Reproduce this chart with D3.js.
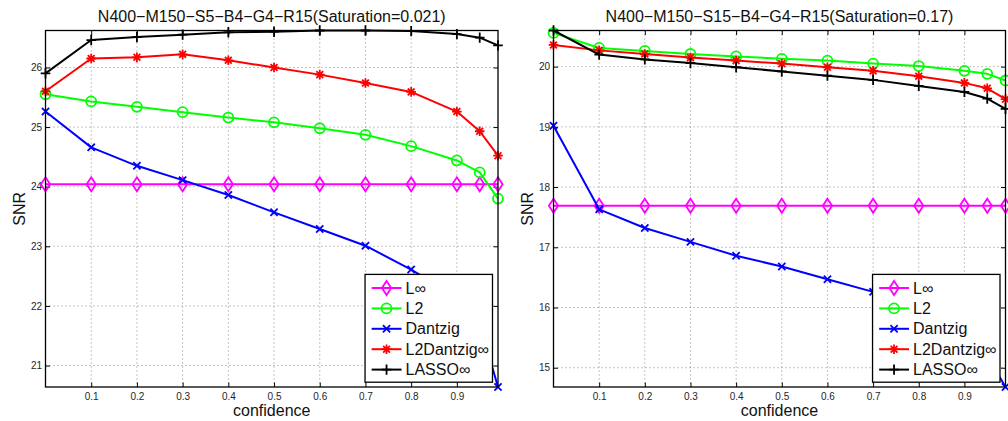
<!DOCTYPE html>
<html>
<head>
<meta charset="utf-8">
<script src="https://cdn.jsdelivr.net/npm/d3@7"></script>
<style>
  html, body { margin: 0; padding: 0; background: #fff; }
  svg { display: block; font-family: "Liberation Sans", Arial, Helvetica, sans-serif; }
</style>
</head>
<body>
<svg id="chart" width="1008" height="421"></svg>
<script>
// Shared x values (confidence level)
const confidence = [0, 0.1, 0.2, 0.3, 0.4, 0.5, 0.6, 0.7, 0.8, 0.9, 0.95, 0.99];
const xTickValues = [0.1, 0.2, 0.3, 0.4, 0.5, 0.6, 0.7, 0.8, 0.9];
const seriesNames = ["L\u221E", "L2", "Dantzig", "L2Dantzig\u221E", "LASSO\u221E"];

// Left panel: S5 (Saturation = 0.021)
const leftTitle = "N400\u2212M150\u2212S5\u2212B4\u2212G4\u2212R15(Saturation=0.021)";
const leftYTicks = [21, 22, 23, 24, 25, 26];
const leftLinf = [24.04, 24.04, 24.04, 24.04, 24.04, 24.04, 24.04, 24.04, 24.04, 24.04, 24.04, 24.04];
const leftL2 = [25.55, 25.43, 25.34, 25.25, 25.16, 25.08, 24.98, 24.87, 24.68, 24.44, 24.24, 23.80];
const leftDantzig = [25.26, 24.66, 24.35, 24.11, 23.86, 23.57, 23.29, 23.01, 22.61, 22.15, 21.70, 20.64];
const leftL2Dantzig = [25.60, 26.15, 26.17, 26.22, 26.12, 26.00, 25.88, 25.74, 25.59, 25.26, 24.93, 24.52];
const leftLasso = [25.90, 26.46, 26.51, 26.55, 26.59, 26.60, 26.62, 26.62, 26.61, 26.56, 26.50, 26.37];

// Right panel: S15 (Saturation = 0.17)
const rightTitle = "N400\u2212M150\u2212S15\u2212B4\u2212G4\u2212R15(Saturation=0.17)";
const rightYTicks = [15, 16, 17, 18, 19, 20];
const rightLinf = [17.69, 17.69, 17.69, 17.69, 17.69, 17.69, 17.69, 17.69, 17.69, 17.69, 17.69, 17.69];
const rightL2 = [20.56, 20.31, 20.26, 20.21, 20.17, 20.13, 20.10, 20.05, 20.01, 19.93, 19.88, 19.77];
const rightDantzig = [19.02, 17.63, 17.32, 17.09, 16.86, 16.68, 16.47, 16.26, 16.05, 15.80, 15.20, 14.68];
const rightL2Dantzig = [20.36, 20.27, 20.21, 20.15, 20.10, 20.05, 19.99, 19.93, 19.84, 19.73, 19.64, 19.46];
const rightLasso = [20.60, 20.20, 20.12, 20.06, 19.99, 19.92, 19.85, 19.78, 19.68, 19.58, 19.47, 19.30];

// Line colours and marker shapes per series (same order as seriesNames)
const seriesColors = ["#ff00ff", "#00ff00", "#0000ff", "#ff0000", "#000000"];
const seriesMarkers = ["diamond", "circle", "cross", "asterisk", "plus"];

const panels = [
  { title: leftTitle, yTicks: leftYTicks, values: [leftLinf, leftL2, leftDantzig, leftL2Dantzig, leftLasso],
    box: { left: 45.5, right: 498, top: 30.5, bottom: 387 } },
  { title: rightTitle, yTicks: rightYTicks, values: [rightLinf, rightL2, rightDantzig, rightL2Dantzig, rightLasso],
    box: { left: 553.5, right: 1005.5, top: 30.5, bottom: 387 } }
];

function markerPath(type) {
  switch (type) {
    case "diamond": return "M0,-7L4.6,0L0,7L-4.6,0Z";
    case "circle": return d3.arc()({ innerRadius: 0, outerRadius: 5, startAngle: 0, endAngle: 2 * Math.PI });
    case "cross": return "M-3.6,-3.6L3.6,3.6M-3.6,3.6L3.6,-3.6";
    case "asterisk": return "M-4.8,0L4.8,0M0,-4.8L0,4.8M-3.4,-3.4L3.4,3.4M-3.4,3.4L3.4,-3.4";
    case "plus": return "M-4.8,0L4.8,0M0,-5.2L0,5.2";
  }
}

const svg = d3.select("#chart");

panels.forEach(p => {
  const b = p.box;
  const allVals = p.values.flat();
  const x = d3.scaleLinear().domain([0, 0.99]).range([b.left, b.right]);
  const y = d3.scaleLinear().domain(d3.extent(allVals)).range([b.bottom, b.top]);
  const g = svg.append("g");
  const w = b.right - b.left, h = b.bottom - b.top;

  // dotted grid
  g.append("g").selectAll("line.gx").data(xTickValues).join("line")
    .attr("x1", d => x(d)).attr("x2", d => x(d)).attr("y1", b.top).attr("y2", b.bottom)
    .attr("stroke", "#8a8a8a").attr("stroke-width", 1).attr("stroke-dasharray", "1,3");
  g.append("g").selectAll("line.gy").data(p.yTicks).join("line")
    .attr("x1", b.left).attr("x2", b.right).attr("y1", d => y(d)).attr("y2", d => y(d))
    .attr("stroke", "#8a8a8a").attr("stroke-width", 1).attr("stroke-dasharray", "1,3");

  // axes (inward ticks on all four sides)
  const tk = 4.5;
  const xb = g.append("g").attr("transform", `translate(0,${b.bottom})`)
    .call(d3.axisBottom(x).tickValues(xTickValues).tickSize(-tk).tickPadding(5.5).tickFormat(d3.format(".1f")));
  const xt = g.append("g").attr("transform", `translate(0,${b.top})`)
    .call(d3.axisTop(x).tickValues(xTickValues).tickSize(-tk).tickFormat(""));
  const yl = g.append("g").attr("transform", `translate(${b.left},0)`)
    .call(d3.axisLeft(y).tickValues(p.yTicks).tickSize(-tk).tickPadding(3.5).tickFormat(d3.format("d")));
  const yr = g.append("g").attr("transform", `translate(${b.right},0)`)
    .call(d3.axisRight(y).tickValues(p.yTicks).tickSize(-tk).tickFormat(""));
  [xb, xt, yl, yr].forEach(a => {
    a.select(".domain").remove();
    a.selectAll(".tick line").attr("stroke", "#000").attr("stroke-width", 1);
    a.selectAll(".tick text").attr("font-size", 10).attr("fill", "#262626")
      .attr("font-family", "Liberation Sans, Arial, sans-serif");
  });

  // series lines and markers
  p.values.forEach((vals, i) => {
    const pts = confidence.map((c, j) => [c, vals[j]]);
    g.append("path").datum(pts)
      .attr("fill", "none").attr("stroke", seriesColors[i]).attr("stroke-width", 2)
      .attr("stroke-linejoin", "round")
      .attr("d", d3.line().x(d => x(d[0])).y(d => y(d[1])));
    g.append("g").selectAll("path").data(pts).join("path")
      .attr("transform", d => `translate(${x(d[0])},${y(d[1])})`)
      .attr("d", markerPath(seriesMarkers[i]))
      .attr("fill", "none").attr("stroke", seriesColors[i]).attr("stroke-width", 1.8);
  });

  // axes box
  g.append("rect").attr("x", b.left).attr("y", b.top).attr("width", w).attr("height", h)
    .attr("fill", "none").attr("stroke", "#000").attr("stroke-width", 1.3);

  // title and axis labels
  g.append("text").attr("x", (b.left + b.right) / 2).attr("y", 21.5)
    .attr("text-anchor", "middle").attr("font-size", 16).attr("fill", "#111").text(p.title);
  g.append("text").attr("x", (b.left + b.right) / 2).attr("y", 416)
    .attr("text-anchor", "middle").attr("font-size", 16).attr("fill", "#111").text("confidence");
  g.append("text").attr("transform", `translate(${b.left - 20.5},${(b.top + b.bottom) / 2}) rotate(-90)`)
    .attr("text-anchor", "middle").attr("font-size", 16).attr("fill", "#111").text("SNR");

  // legend
  const lg = g.append("g");
  const rowGap = 20.4, firstRow = 13.6;
  const lgH = firstRow * 2 + rowGap * (seriesNames.length - 1) - 1;
  const bg = lg.append("rect").attr("fill", "#fff").attr("stroke", "#000").attr("stroke-width", 1.3);
  const texts = [];
  seriesNames.forEach((name, i) => {
    const row = lg.append("g").attr("transform", `translate(0,${firstRow + i * rowGap})`);
    row.append("line").attr("x1", 6.6).attr("x2", 36.5).attr("y1", 0).attr("y2", 0)
      .attr("stroke", seriesColors[i]).attr("stroke-width", 2);
    row.append("path").attr("transform", "translate(21.5,0)").attr("d", markerPath(seriesMarkers[i]))
      .attr("fill", "none").attr("stroke", seriesColors[i]).attr("stroke-width", 1.8);
    texts.push(row.append("text").attr("x", 40.5).attr("y", 5.6).attr("font-size", 16)
      .attr("fill", "#111").text(name));
  });
  const maxLen = d3.max(texts, t => t.node().getComputedTextLength());
  const lgW = 40.5 + maxLen + 3.5;
  bg.attr("x", 0).attr("y", 0).attr("width", lgW).attr("height", lgH);
  lg.attr("transform", `translate(${b.right - 5.5 - lgW},${b.bottom - 4.8 - lgH})`);
});
</script>
</body>
</html>
